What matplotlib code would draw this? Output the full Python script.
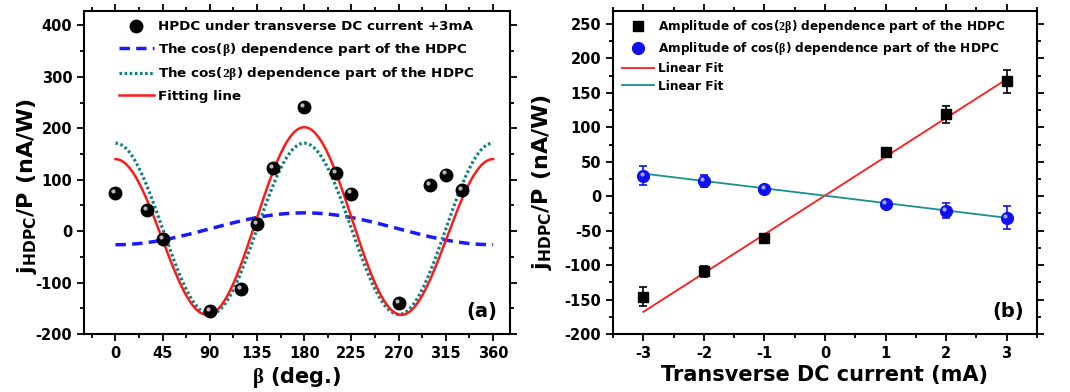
import numpy as np
import matplotlib
matplotlib.use('Agg')
import matplotlib.pyplot as plt
from matplotlib.ticker import MultipleLocator
from matplotlib.transforms import offset_copy

plt.rcParams['font.family'] = 'DejaVu Sans'
plt.rcParams['font.weight'] = 'bold'
plt.rcParams['axes.labelweight'] = 'bold'
plt.rcParams['axes.unicode_minus'] = False
plt.rcParams['mathtext.fontset'] = 'custom'
plt.rcParams['mathtext.rm'] = 'Liberation Serif'
plt.rcParams['mathtext.it'] = 'Liberation Serif:italic'
plt.rcParams['mathtext.bf'] = 'DejaVu Sans:bold'

# (a) HPDC vs beta at +3 mA
beta = [0, 30, 45, 90, 120, 135, 150, 180, 210, 225, 270, 300, 315, 330]
hpdc = [74, 41, -15, -156, -113, 14, 122, 241, 113, 73, -139, 90, 110, 80]

# fit parameters: C + A1 cos(b) + A2 cos(2b)
fit_c = 4.5
fit_a1 = -31
fit_a2 = 166.5

# (b) amplitudes vs DC current
current = [-3, -2, -1, 1, 2, 3]
amp_cos2b = [-146, -109, -60, 64, 119, 167]
err_cos2b = [14, 8, 3, 3, 12, 17]
amp_cosb = [30, 22, 11, -11, -21, -31]
err_cosb = [14, 9, 2, 2, 11, 17]

# linear fits (slope, intercept)
fit2_slope, fit2_icpt = 56.3, 1.0
fit1_slope, fit1_icpt = -10.7, 0.8

ylab = r'$\mathbf{j}_{\mathbf{HDPC}}$/P (nA/W)'

fig = plt.figure(figsize=(10.7, 3.92), dpi=100)
ax1 = fig.add_axes([0.0785, 0.148, 0.398, 0.824])
ax2 = fig.add_axes([0.573, 0.148, 0.396, 0.824])

bb = np.linspace(0, 360, 361)
br = np.radians(bb)

hl = offset_copy(ax1.transData, fig=fig, x=-1.5, y=1.5, units='points')
ax1.plot(beta, hpdc, 'o', color='black', ms=9, label='HPDC under transverse DC current +3mA', zorder=5)
ax1.plot(beta, hpdc, 'o', color='#b8b8b8', ms=3, mec='none', transform=hl, zorder=6)
ax1.plot(bb, fit_c + fit_a1*np.cos(br), '--', color='#1a1aff', lw=2.5, dashes=(3, 1.8),
         label=r'The cos($\mathrm{\beta}$) dependence part of the HDPC')
ax1.plot(bb, fit_c + fit_a2*np.cos(2*br), ':', color='#0f8080', lw=2.3, dashes=(0.8, 0.8),
         label=r'The cos($\mathrm{2\beta}$) dependence part of the HDPC')
ax1.plot(bb, fit_c + fit_a1*np.cos(br) + fit_a2*np.cos(2*br), '-', color='#ff1a1a', lw=1.8,
         label='Fitting line')

ax1.set_xlim(-30, 376)
ax1.set_ylim(-200, 428)
ax1.xaxis.set_major_locator(MultipleLocator(45))
ax1.xaxis.set_minor_locator(MultipleLocator(22.5))
ax1.yaxis.set_major_locator(MultipleLocator(100))
ax1.yaxis.set_minor_locator(MultipleLocator(50))
ax1.set_xlabel(r'$\mathrm{\beta}$ (deg.)', fontsize=15, labelpad=3)
ax1.set_ylabel(ylab, fontsize=16)
ax1.yaxis.set_label_coords(-0.106, 0.458)
ax1.text(0.97, 0.04, '(a)', transform=ax1.transAxes, ha='right', va='bottom', fontsize=14)
ax1.legend(loc='upper left', bbox_to_anchor=(0.06, 1.0), frameon=False, fontsize=9.7,
           handlelength=2.6, handletextpad=0.3, labelspacing=0.55, borderpad=0.2)

# (b)
eb2 = ax2.errorbar(current, amp_cos2b, yerr=err_cos2b, fmt='s', color='black', ms=7.5, capsize=3,
                   elinewidth=1.2, capthick=1.2)
hl2 = offset_copy(ax2.transData, fig=fig, x=-1.2, y=1.2, units='points')
eb1 = ax2.errorbar(current, amp_cosb, yerr=err_cosb, fmt='o', color='#1010ee', ms=8.5, capsize=3,
                   elinewidth=1.2, capthick=1.2)
ax2.plot(current, amp_cosb, 'o', color='#a0a8ff', ms=3, mec='none', transform=hl2, zorder=6)
xf = np.array([-3, 3])
l2, = ax2.plot(xf, fit2_slope*xf + fit2_icpt, '-', color='#ff1a1a', lw=1.3)
l1, = ax2.plot(xf, fit1_slope*xf + fit1_icpt, '-', color='#1a8f8f', lw=1.3)

ax2.set_xlim(-3.5, 3.5)
ax2.set_ylim(-200, 269)
ax2.xaxis.set_major_locator(MultipleLocator(1))
ax2.xaxis.set_minor_locator(MultipleLocator(0.5))
ax2.yaxis.set_major_locator(MultipleLocator(50))
ax2.yaxis.set_minor_locator(MultipleLocator(25))
ax2.set_xlabel('Transverse DC current (mA)', fontsize=15, labelpad=3)
ax2.set_ylabel(ylab, fontsize=16)
ax2.yaxis.set_label_coords(-0.14, 0.47)
ax2.text(0.97, 0.04, '(b)', transform=ax2.transAxes, ha='right', va='bottom', fontsize=14)
ax2.legend([eb2[0], eb1[0], l2, l1],
           [r'Amplitude of cos($\mathrm{2\beta}$) dependence part of the HDPC',
            r'Amplitude of cos($\mathrm{\beta}$) dependence part of the HDPC',
            'Linear Fit', 'Linear Fit'],
           loc='upper left', bbox_to_anchor=(0.005, 1.0), frameon=False, fontsize=8.7,
           handlelength=2.6, handletextpad=0.3, labelspacing=0.4, borderpad=0.1)

for ax in (ax1, ax2):
    for s in ax.spines.values():
        s.set_linewidth(1.5)
    ax.tick_params(which='both', direction='out', top=True, right=True, width=1.3,
                   labelsize=10.5, labeltop=False, labelright=False)
    ax.tick_params(which='major', length=5)
    ax.tick_params(which='minor', length=3)

fig.savefig('out.png', dpi=100)
